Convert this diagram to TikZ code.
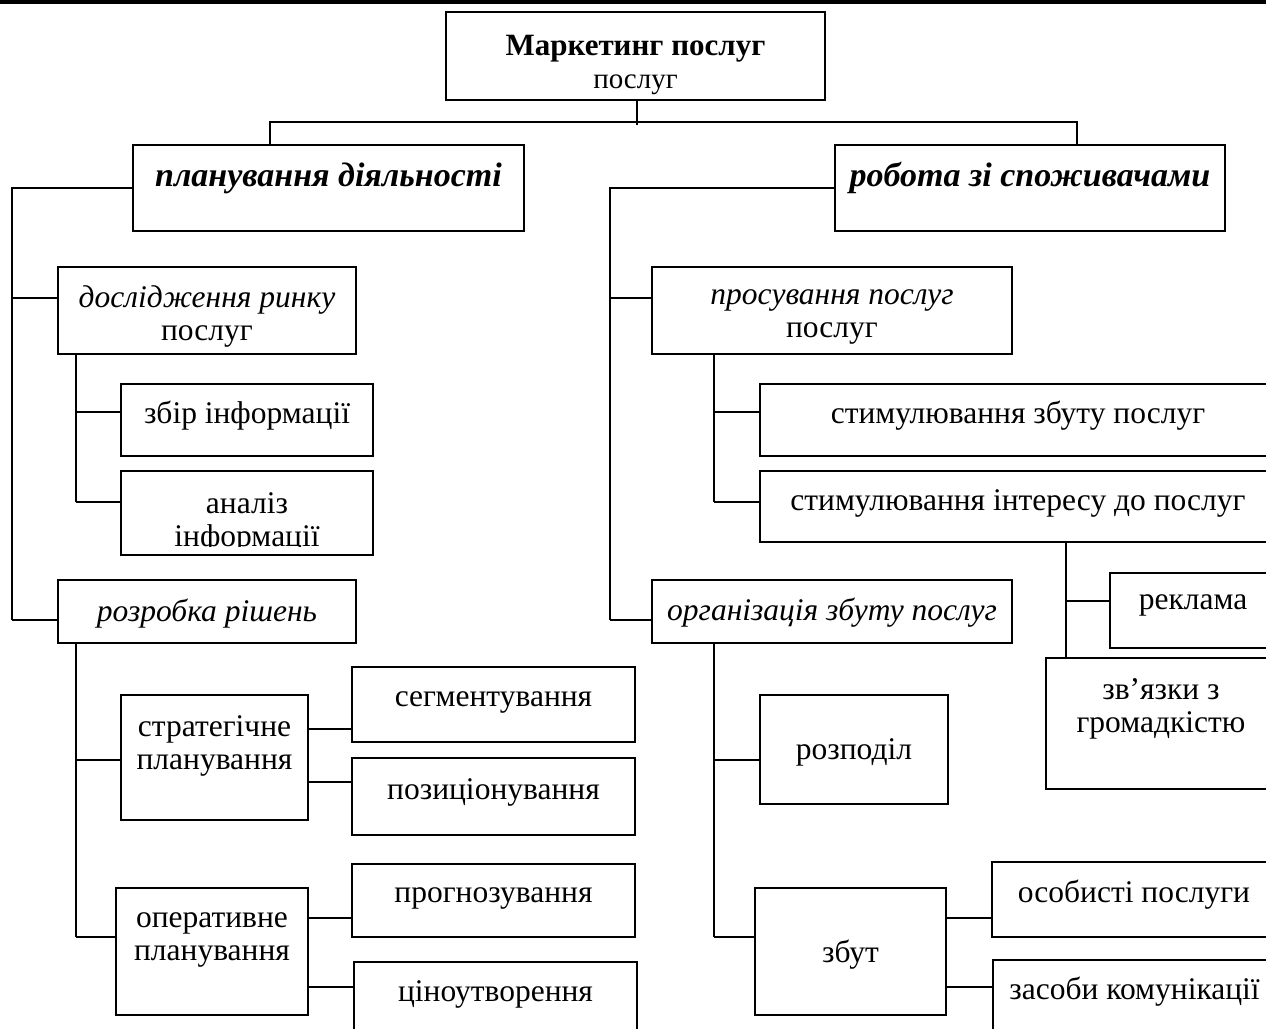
\documentclass[tikz,border=0pt]{standalone}
\usepackage{fontspec}
\setmainfont{Liberation Serif}
\tikzset{
  box/.style={draw, line width=2.2pt, inner sep=0pt},
  lbl/.style={align=center, inner sep=0pt, font=\fontsize{31.5}{33}\selectfont},
}
\newcommand\headfont{\fontsize{34}{38}\selectfont\bfseries\itshape}
\begin{document}
\begin{tikzpicture}[x=1pt, y=-1pt, line width=2pt]
  \useasboundingbox (0,0) rectangle (1266,1028);
  \clip (0,0) rectangle (1266,1028);
  \fill (0,0) rectangle (1266,4);
  \def \Boxes{
    mark/635.5/56/379/88/-9/{{\fontsize{31}{33}\selectfont\bfseries Маркетинг послуг}\\{\fontsize{29}{33}\selectfont послуг}},
    plan/328.5/188/391/86/10/{\headfont планування діяльності},
    work/1030/188/390/86/10/{\headfont робота зі споживачами},
    res/207/310.5/298/87/-6/{{\itshape дослідження ринку}\\послуг},
    coll/247/420/252/72/4/{збір інформації},
    dec/207/611.5/298/63/-2/{\itshape розробка рішень},
    strat/214.5/757.5/187/125/12/{стратегічне\\планування},
    oper/212/951.5/192/127/12/{оперативне\\планування},
    segm/493.5/704.5/283/75/2/{сегментування},
    pos/493.5/796.5/283/77/4/{позиціонування},
    fore/493.5/900.5/283/73/2/{прогнозування},
    price/495.5/1001/283/78/7/{ціноутворення},
    prom/832/310.5/360/87/-6/{{\itshape просування послуг}\\послуг},
    stsale/1018/420/516/72/4/{стимулювання збуту послуг},
    stint/1018/506.5/516/71/3/{стимулювання інтересу до послуг},
    adv/1193/610.5/166/75/5/{реклама},
    pr/1161/723.5/230/131/15/{зв’язки з\\громадкістю},
    org/832/611.5/360/63/-1/{\itshape організація збуту послуг},
    dist/854/749.5/188/109/-3/{розподіл},
    sale/850.5/951.5/191/127/-3/{збут},
    pers/1134/899.5/284/75/5/{особисті послуги},
    comm/1134.5/1000/283/80/8/{засоби комунікації}}
  \foreach \id / \x / \y / \w / \h / \dy / \txt in \Boxes{
    \node[box, minimum width=\w pt, minimum height=\h pt] (\id) at (\x, \y) {};
    \node[lbl] (\id-t) at ([yshift=\dy pt]\id.center) {\txt};
  }
  % this one is cut off at the bottom
  \node[box, minimum width=252pt, minimum height=84pt] (anal) at (247, 513) {};
  \begin{scope}
    \clip (anal.north west) rectangle ([yshift=10pt]anal.south east);
    \node[lbl] (anal-t) at ([yshift=-10pt]anal.center) {аналіз\\інформації};
  \end{scope}
  % trunks
  \coordinate (bus) at (637,122);
  \coordinate (lt) at (12,0);
  \coordinate (ls) at (76,0);
  \coordinate (rt) at (610,0);
  \coordinate (rs) at (714,0);
  \coordinate (ps) at (1066,0);
  \draw (mark.south -| bus) -- ([yshift=-3pt]bus);
  \draw ([xshift=-58.5pt]plan.north) |- (bus) -| ([xshift=46.5pt]work.north);
  \draw (plan.west) -| ([yshift=-8.5pt]lt |- dec.west);
  \draw (work.west) -| ([yshift=-8.5pt]rt |- org.west);
  \draw (ls |- res.south) -- ([yshift=11pt]ls |- anal.west);
  \draw (ls |- dec.south) -- ([yshift=14.5pt]ls |- oper.west);
  \draw (rs |- prom.south) -- ([yshift=4.5pt]rs |- stint.west);
  \draw (rs |- org.south) -- ([yshift=14.5pt]rs |- sale.west);
  \draw (ps |- stint.south) -- (ps |- pr.north);
  % branches
  \foreach \c / \t / \d in {res/lt/13, dec/lt/-8.5, coll/ls/8, anal/ls/11,
      strat/ls/-2.5, oper/ls/14.5, prom/rt/13, org/rt/-8.5, stsale/rs/8,
      stint/rs/4.5, dist/rs/-10.5, sale/rs/14.5, adv/ps/9.5}{
    \draw ([yshift=\d pt]\c.west) -- ([yshift=\d pt]\t |- \c.west);
  }
  \foreach \p / \c / \d in {strat/segm/-24.5, strat/pos/14.5, oper/fore/-17.5,
      oper/price/14, sale/pers/-18.5, sale/comm/13}{
    \draw ([yshift=\d pt]\c.west) -- ([yshift=\d pt]\p.east |- \c.west);
  }
\end{tikzpicture}
\end{document}
